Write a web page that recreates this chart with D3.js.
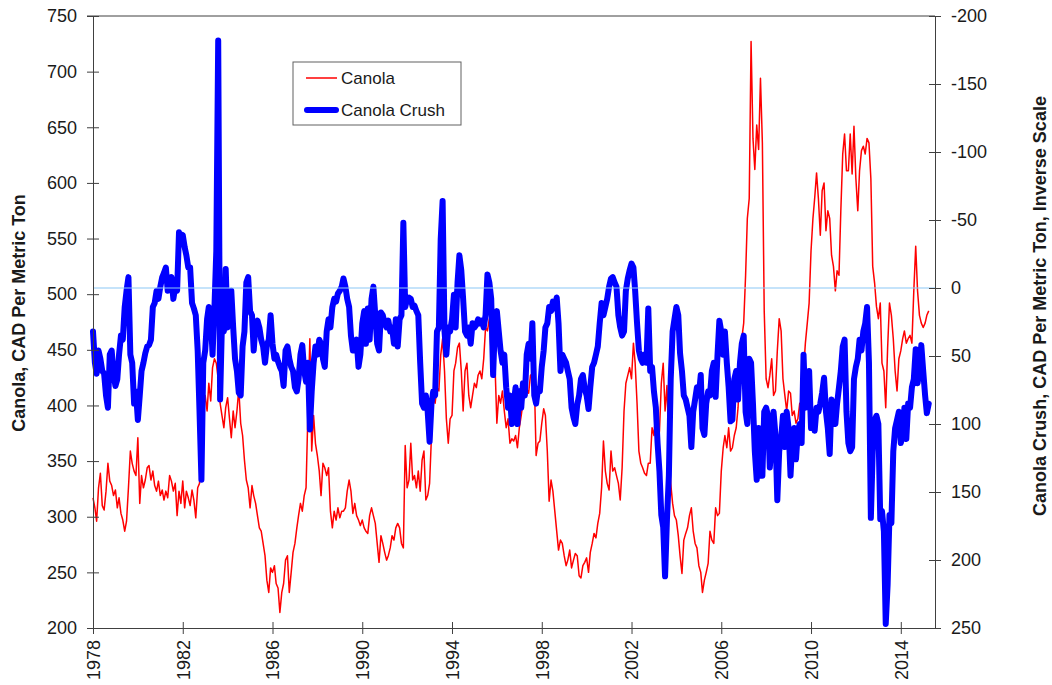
<!DOCTYPE html>
<html>
<head>
<meta charset="utf-8">
<script src="https://cdn.jsdelivr.net/npm/d3@7"></script>
<style>
  body { margin: 0; background: #fff; }
  text { font-family: "Liberation Sans", Arial, sans-serif; }
</style>
</head>
<body>
<div id="chartContainer"></div>
<script>
// monthly values, first point = Jan 1978
var startYear = 1978;

var canola = [
  317,308,296,326,339,310,306,323,348,332,328,319,324,308,317,303,297,287,296,326,
  359,348,341,337,371,312,337,326,333,344,346,333,341,328,323,332,319,324,315,323,
  317,337,332,323,330,301,323,312,332,308,323,317,310,324,315,299,326,330,377,395,
  409,395,420,404,434,442,438,424,402,391,380,398,407,388,371,395,
  380,395,415,384,373,351,333,326,308,328,319,312,301,290,287,276,265,243,232,254,
  250,256,240,236,214,232,240,261,265,232,250,268,276,290,301,312,305,319,326,395,
  460,359,391,366,355,341,319,348,344,337,344,305,290,305,297,308,299,305,305,308,
  323,333,323,303,312,301,297,292,297,290,287,285,301,308,301,
  294,276,259,283,276,268,261,265,272,283,279,290,294,290,276,272,364,326,333,366,
  333,337,326,341,323,351,359,315,319,330,373,409,402,416,413,445,460,431,388,366,
  388,391,431,438,452,456,431,395,431,438,409,398,409,420,416,427,431,424,442,470,
  467,478,445,431,438,384,409,402,413,395,380,388,366,370,368,373,
  362,380,391,402,413,415,411,427,429,424,355,366,368,384,397,391,359,314,333,323,
  305,287,270,279,276,265,256,261,270,254,261,267,265,247,245,256,259,263,250,268,
  276,285,281,294,303,326,368,341,330,324,359,341,344,337,330,315,344,395,420,427,
  434,424,456,438,402,359,348,344,339,337,348,348,380,373,395,366,
  377,420,438,395,418,362,330,312,301,297,283,265,249,279,285,290,301,308,287,276,
  272,256,250,232,243,250,258,287,279,276,308,301,303,341,362,373,362,380,359,362,
  373,380,398,434,460,474,517,568,586,727,640,612,652,630,694,636,485,424,416,427,
  442,409,413,449,478,467,424,409,395,413,411,391,395,384,388,402,
  388,431,456,474,492,539,568,586,609,586,553,593,600,557,575,568,535,525,503,521,
  517,575,626,644,611,611,644,608,651,604,575,611,629,633,626,640,636,604,525,510,
  489,478,492,438,431,398,452,492,481,460,431,413,442,449,460,467,456,460,463,456,
  503,543,503,481,474,470,474,481,485
];

var crush = [
  32,55,63,46,52,61,63,79,88,49,46,63,72,67,49,35,38,14,2,-8,
  49,55,85,76,97,79,61,55,48,43,42,38,14,11,2,8,-1,-8,-11,-15,
  2,-4,-8,8,-1,2,-41,-35,-39,-30,-24,-15,-15,11,15,20,46,91,141,55,
  46,23,14,20,49,14,-27,-182,82,26,32,-14,29,23,2,29,
  52,61,77,79,43,32,-4,-8,17,20,46,26,24,29,38,43,55,42,38,20,
  41,52,49,54,58,61,72,46,43,52,58,61,73,76,67,49,42,61,69,55,
  104,76,55,43,49,38,41,52,58,32,23,29,14,8,10,4,2,-1,-7,-1,
  8,14,35,46,43,38,58,49,26,17,41,15,38,8,-1,
  20,41,46,18,20,26,29,24,32,29,41,23,43,23,20,-48,14,8,7,8,
  14,13,17,20,55,85,88,79,91,113,85,76,79,32,29,-36,-64,32,49,29,
  32,23,5,29,-4,-24,-13,8,32,35,29,41,26,29,27,23,26,24,29,20,
  -10,-4,8,64,26,17,32,46,55,49,73,88,79,100,85,73,
  100,76,88,70,79,49,41,52,26,79,85,74,76,58,46,29,26,14,17,10,
  15,7,26,61,49,52,55,61,67,88,95,100,86,79,67,64,74,79,89,73,
  58,55,49,43,26,11,20,14,8,-1,-7,-8,-4,-1,20,29,35,32,2,-7,
  -13,-18,-15,2,26,46,52,55,49,55,15,61,58,76,88,114,
  135,167,176,212,170,138,67,32,23,14,20,48,61,79,82,88,94,117,91,82,
  73,79,64,103,108,85,76,79,61,55,80,49,24,32,49,32,55,73,98,97,
  67,61,82,55,41,35,91,100,52,55,85,120,141,103,138,138,91,88,94,132,
  114,91,108,156,120,111,94,117,91,103,138,114,103,126,105,100,
  114,49,88,73,61,103,94,105,88,91,85,77,66,91,103,122,82,91,100,85,
  73,61,43,38,91,114,120,117,67,58,52,38,46,32,26,14,55,169,120,97,
  94,100,170,164,179,247,218,167,173,120,103,97,91,114,108,88,111,85,88,73,
  67,45,70,61,42,61,79,92,85
];

var yearTicks = [1978, 1982, 1986, 1990, 1994, 1998, 2002, 2006, 2010, 2014];
var leftTicks = [200, 250, 300, 350, 400, 450, 500, 550, 600, 650, 700, 750];
var rightTicks = [-200, -150, -100, -50, 0, 50, 100, 150, 200, 250];

var width = 1052, height = 685;
var plotLeft = 93, plotRight = 935, plotTop = 16, plotBottom = 628;

var svg = d3.select("#chartContainer")
  .append("svg")
  .attr("width", width)
  .attr("height", height);

svg.append("rect").attr("width", width).attr("height", height).attr("fill", "#fff");

var x = d3.scaleTime()
  .domain([new Date(1978, 0, 1), new Date(2015, 6, 12)])
  .range([plotLeft, plotRight]);
var yL = d3.scaleLinear().domain([200, 750]).range([plotBottom, plotTop]);
var yR = d3.scaleLinear().domain([250, -200]).range([plotBottom, plotTop]);

function monthDate(i) { return new Date(startYear, i, 1); }

// frame top
svg.append("line")
  .attr("x1", plotLeft - 6).attr("x2", plotRight)
  .attr("y1", plotTop).attr("y2", plotTop)
  .attr("stroke", "#404040");

// lines
var lineL = d3.line()
  .x(function(d, i) { return x(monthDate(i)); })
  .y(function(d) { return yL(d); });
var lineR = d3.line()
  .x(function(d, i) { return x(monthDate(i)); })
  .y(function(d) { return yR(d); });

svg.append("path")
  .datum(canola)
  .attr("d", lineL)
  .attr("fill", "none")
  .attr("stroke", "#ff0000")
  .attr("stroke-width", 1.5)
  .attr("stroke-linejoin", "round");

svg.append("path")
  .datum(crush)
  .attr("d", lineR)
  .attr("fill", "none")
  .attr("stroke", "#0000ff")
  .attr("stroke-width", 6)
  .attr("stroke-linejoin", "round")
  .attr("stroke-linecap", "round");

// zero line of the crush scale
svg.append("line")
  .attr("x1", plotLeft).attr("x2", plotRight)
  .attr("y1", yR(0)).attr("y2", yR(0))
  .attr("stroke", "#8cc8f5")
  .attr("stroke-width", 1.2);

// axes
var gx = svg.append("g")
  .attr("transform", "translate(0," + plotBottom + ")")
  .call(d3.axisBottom(x)
    .tickValues(yearTicks.map(function(y) { return new Date(y, 0, 1); }))
    .tickFormat(d3.timeFormat("%Y"))
    .tickSizeInner(6).tickSizeOuter(0));
gx.selectAll(".tick line").attr("y1", -6).attr("y2", 6);
gx.selectAll(".tick text")
  .attr("transform", "rotate(-90)")
  .attr("x", -12).attr("y", 0).attr("dy", "0.35em")
  .style("text-anchor", "end");

var gl = svg.append("g")
  .attr("transform", "translate(" + plotLeft + ",0)")
  .call(d3.axisLeft(yL).tickValues(leftTicks).tickSize(6).tickPadding(10).tickSizeOuter(0));
gl.selectAll(".tick line").attr("x1", 6).attr("x2", -6);

// plain hyphen for negatives, as in the original
var gr = svg.append("g")
  .attr("transform", "translate(" + plotRight + ",0)")
  .call(d3.axisRight(yR).tickValues(rightTicks)
    .tickFormat(function(d) { return String(d); })
    .tickSize(6).tickPadding(10).tickSizeOuter(0));
gr.selectAll(".tick line").attr("x1", -6).attr("x2", 6);

[gx, gl, gr].forEach(function(g) {
  g.select(".domain").attr("stroke", "#404040");
  g.selectAll(".tick line").attr("stroke", "#404040");
  g.selectAll(".tick text")
    .attr("fill", "#1a1a1a")
    .style("font-size", "18px")
    .style("font-family", "'Liberation Sans', Arial, sans-serif");
});

// axis titles
svg.append("text")
  .attr("transform", "translate(25,313) rotate(-90)")
  .attr("text-anchor", "middle")
  .style("font-size", "18px").style("font-weight", "bold")
  .attr("fill", "#1a1a1a")
  .text("Canola, CAD Per Metric Ton");

svg.append("text")
  .attr("transform", "translate(1046,306) rotate(-90)")
  .attr("text-anchor", "middle")
  .style("font-size", "18px").style("font-weight", "bold")
  .attr("fill", "#1a1a1a")
  .text("Canola Crush, CAD Per Metric Ton, Inverse Scale");

// legend
var lg = svg.append("g");
lg.append("rect")
  .attr("x", 293).attr("y", 62).attr("width", 168).attr("height", 63)
  .attr("fill", "#fff").attr("stroke", "#606060");
lg.append("line")
  .attr("x1", 306).attr("x2", 337).attr("y1", 78).attr("y2", 78)
  .attr("stroke", "#ff0000").attr("stroke-width", 1.5);
lg.append("line")
  .attr("x1", 307).attr("x2", 336).attr("y1", 110).attr("y2", 110)
  .attr("stroke", "#0000ff").attr("stroke-width", 6).attr("stroke-linecap", "round");
lg.append("text").attr("x", 341).attr("y", 78).attr("dy", "0.35em")
  .style("font-size", "17px").attr("fill", "#1a1a1a").text("Canola");
lg.append("text").attr("x", 341).attr("y", 110).attr("dy", "0.35em")
  .style("font-size", "17px").attr("fill", "#1a1a1a").text("Canola Crush");
</script>
</body>
</html>
